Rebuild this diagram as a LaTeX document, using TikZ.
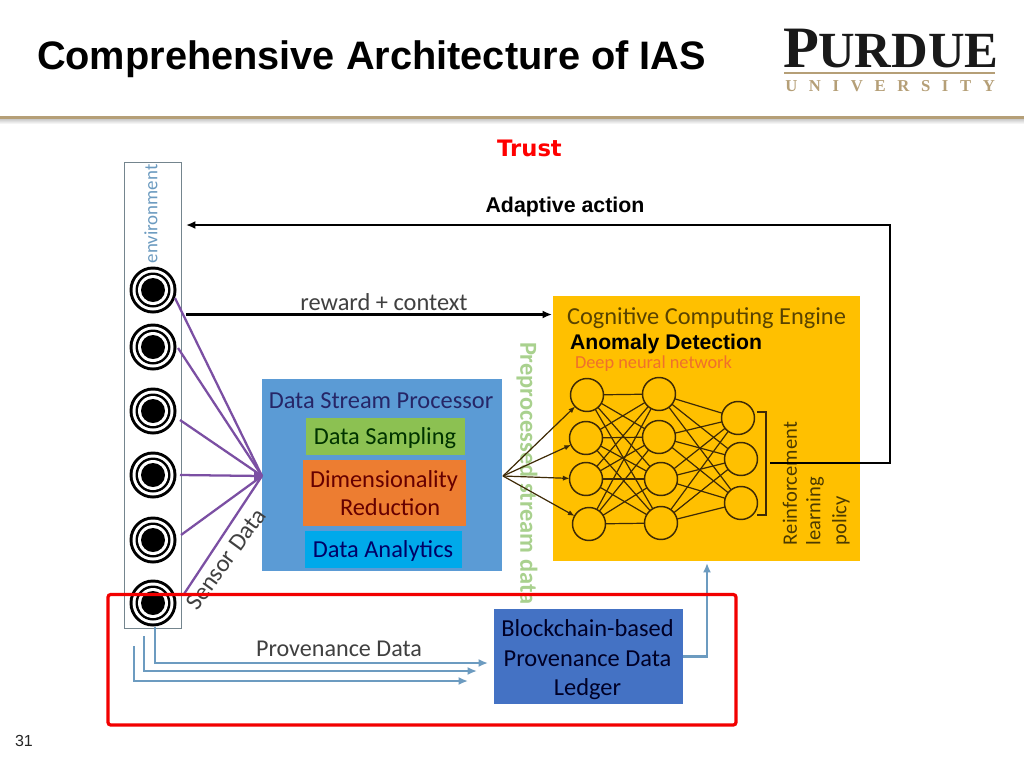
\documentclass[tikz,border=0pt]{standalone}
\usepackage{fontspec}
\setmainfont{Liberation Sans}
\newfontfamily\calfam{Carlito}
\newfontfamily\logofam{Liberation Serif}
\newfontfamily\dvfam{DejaVu Sans}
\newfontfamily\logospaced[LetterSpace=70]{Liberation Serif}
\usetikzlibrary{arrows.meta,decorations.pathreplacing,calc,shadings}
\definecolor{tanc}{HTML}{B59F77}
\definecolor{purp}{HTML}{7B4FA3}
\definecolor{provblue}{HTML}{6C9BC0}
\definecolor{dspblue}{HTML}{5B9BD5}
\definecolor{yel}{HTML}{FFC000}
\definecolor{ledger}{HTML}{4472C4}
\definecolor{dgreen}{HTML}{8CC152}
\definecolor{dorange}{HTML}{ED7D31}
\definecolor{dcyan}{HTML}{00A9EA}
\definecolor{nnline}{HTML}{3E2A06}
\definecolor{prelbl}{HTML}{A9D18E}
\tikzset{
  x=0.75pt,y=-0.75pt,
  box/.style={draw=none,inner sep=0pt,outer sep=0pt},
  lbl/.style={inner sep=0pt,outer sep=0pt,font=\calfam\fontsize{#1}{#1}\selectfont,text=black!75},
  lbl/.default=18.3,
  boxlbl/.style={inner sep=0pt,outer sep=0pt,align=center,font=\calfam\fontsize{18.3}{21}\selectfont},
  boldlbl/.style={inner sep=0pt,outer sep=0pt,font=\bfseries\fontsize{#1}{#1}\selectfont},
  neuron/.style={circle,draw=nnline,line width=1.1pt,minimum size=33*0.75pt,inner sep=0pt,outer sep=0pt},
  syn/.style={draw=nnline,line width=0.9pt},
  inarrow/.style={draw=nnline,line width=0.9pt,-{Latex[length=5pt,width=4pt]}},
  sensorline/.style={draw=purp,line width=1.7pt},
  prov/.style={draw=provblue,line width=1.7pt,-{Latex[length=7pt,width=6pt]}},
  fb/.style={draw=black,line width=2pt,-{Latex[length=7pt,width=6pt]}},
  rew/.style={draw=black,line width=1.7pt,-{Latex[length=7pt,width=6pt]}},
}
\newcommand{\sensor}[3]{%
  \node[circle,fill=black,minimum size=47*0.75pt,inner sep=0pt,outer sep=0pt] (#1) at (#2,#3) {};
  \node[circle,fill=white,minimum size=41*0.75pt,inner sep=0pt] (#1a) at (#2,#3) {};
  \node[circle,fill=black,minimum size=35*0.75pt,inner sep=0pt] (#1b) at (#2,#3) {};
  \node[circle,fill=white,minimum size=30*0.75pt,inner sep=0pt] (#1c) at (#2,#3) {};
  \node[circle,fill=black,minimum size=24*0.75pt,inner sep=0pt] (#1d) at (#2,#3) {};
}
\begin{document}
\begin{tikzpicture}
\useasboundingbox (0,0) rectangle (1024,768);
\fill[white] (0,0) rectangle (1024,768);

% header
\node[boldlbl=29.8,anchor=west] (title) at (37,59.5) {Comprehensive Architecture of IAS};
\shade[top color=black!25,bottom color=white] (0,118) rectangle (1024,124);
\fill[tanc] (0,115.5) rectangle (1024,119);
\node[inner sep=0pt,anchor=base west,font=\logofam\fontsize{44}{44}\selectfont,text=black!90] (logoP) at (783,67) {\textbf{P}};
\node[inner sep=0pt,anchor=base west,font=\logofam\fontsize{38}{38}\selectfont,text=black!90] (logoR) at (818,67) {\textbf{URDUE}};
\fill[tanc] (784,71.5) rectangle (995,73.5);
\node[inner sep=0pt,anchor=base west,font=\logospaced\fontsize{12.5}{12.5}\selectfont\bfseries,text=tanc] (logoU) at (785,91.5) {UNIVERSITY};

% labels on top
\node[inner sep=0pt,font=\dvfam\bfseries\fontsize{17}{17}\selectfont,text=red] (trust) at (529.5,148.5) {Trust};
\node[boldlbl=16] (adaptive) at (565,207) {Adaptive action};

% environment
\node[box,draw=black!50!cyan!40!gray,line width=0.6pt,minimum width=57*0.75pt,minimum height=466*0.75pt,anchor=north west,fill=white] (env) at (124,162) {};
\node[rotate=90,lbl=14.2,text=provblue,anchor=east] (envl) at (151,164.5) {environment};
\sensor{s1}{153}{290}
\sensor{s2}{153}{347}
\sensor{s3}{153}{411}
\sensor{s4}{153}{475}
\sensor{s5}{153}{540}
\sensor{s6}{153}{603}

% boxes
\node[box,fill=dspblue,minimum width=240*0.75pt,minimum height=192*0.75pt,anchor=north west] (dsp) at (262,379) {};
\node[boxlbl,text=blue!30!black!85,anchor=center] (dspl) at (381,401) {Data Stream Processor};
\node[box,fill=dgreen,minimum width=159*0.75pt,minimum height=37*0.75pt,anchor=north west] (samp) at (306,418) {};
\node[boxlbl,text=green!20!black] (sampl) at (385,438) {Data Sampling};
\node[box,fill=dorange,minimum width=163*0.75pt,minimum height=66*0.75pt,anchor=north west] (dim) at (303,460) {};
\node[boxlbl,text=red!40!black] (diml) at (384,493.5) {Dimensionality\\ \hspace*{0.5em}Reduction};
\node[box,fill=dcyan,minimum width=157*0.75pt,minimum height=37*0.75pt,anchor=north west] (ana) at (305,531) {};
\node[boxlbl,text=blue!40!black] (anal) at (383,551) {Data Analytics};

\node[box,fill=yel,minimum width=307*0.75pt,minimum height=265*0.75pt,anchor=north west] (cce) at (553,296) {};
\node[lbl=18.3,text=yel!35!black,anchor=west] (ccel) at (567,318) {Cognitive Computing Engine};
\node[boldlbl=15.9,anchor=west] (anom) at (570,344) {Anomaly Detection};
\node[lbl=13.75,text=dorange!90!red,anchor=west] (dnn) at (575,364) {Deep neural network};

\node[box,fill=ledger,minimum width=189*0.75pt,minimum height=95*0.75pt,anchor=north west] (led) at (494,609) {};
\node[boxlbl,text=black!85!blue,font=\calfam\fontsize{18.3}{22.2}\selectfont] (ledl) at (587.5,660) {Blockchain-based\\Provenance Data\\Ledger};

% preprocessed label
\node[rotate=-90,inner sep=0pt,outer sep=0pt,text=prelbl,font=\calfam\bfseries\fontsize{18.3}{18.3}\selectfont,anchor=west] (pre) at (527,342) {Preprocessed stream data};

% sensor lines
\coordinate (hub) at (262,476);
\coordinate (p1) at (175,298);
\coordinate (p2) at (178,348);
\coordinate (p3) at (180,420);
\coordinate (p4) at (180,475);
\coordinate (p5) at (181,535);
\coordinate (p6) at (184,594);
\foreach \p in {p1,p2,p3,p4,p5,p6} \draw[sensorline] (\p) -- (hub);
\fill[purp] (hub) ++(-8,-5) -- (hub) -- ++(-8,5) -- cycle;

\node[rotate=54,lbl=18.3] (sd) at (226,559) {Sensor Data};
\node[lbl=18.3] (rc) at (384,302) {reward + context};
\node[lbl=18.1] (pd) at (339,649) {Provenance Data};

% neurons
\foreach \n/\x/\y in {a1/587/395,a2/586/438,a3/586/479,a4/589/524,b1/659/394,b2/659/437,b3/661/479,b4/661/523,c1/738/418,c2/741/459,c3/741/503}
  \node[neuron] (\n) at (\x,\y) {};
\foreach \i in {a1,a2,a3,a4} \foreach \j in {b1,b2,b3,b4} \draw[syn] (\i) -- (\j);
\foreach \i in {b1,b2,b3,b4} \foreach \j in {c1,c2,c3} \draw[syn] (\i) -- (\j);
\coordinate (src) at (503,476);
\foreach \i in {a1,a2,a3,a4} \draw[inarrow] (src) -- (\i);

% bracket
\coordinate (bt) at (757,412);
\coordinate (bb) at (757,515);
\draw[draw=nnline,line width=0.9pt] (bt) -- (766,412) -- (766,515) -- (bb);

\foreach \nm/\x/\t in {r1/790/Reinforcement,r2/815/learning,r3/841/policy}
  \node[rotate=90,lbl=15.4,text=yel!30!black,anchor=west] (\nm) at (\x,545) {\t};

% feedback
\coordinate (fbs) at (770,463);
\coordinate (fbe) at (186,225);
\draw[fb] (fbs) -- (890,463) -- (890,225) -- (fbe);
\coordinate (rs) at (186,314.5);
\coordinate (re) at (552,314.5);
\draw[rew] (rs) -- (re);

% provenance
\coordinate (q1) at (155,627);
\coordinate (q2) at (144,636);
\coordinate (q3) at (134,646);
\coordinate (h1) at (488,663);
\coordinate (h2) at (477,671);
\coordinate (h3) at (468,681);
\coordinate (up) at (707,563);
\draw[prov] (q1) |- (h1);
\draw[prov] (q2) |- (h2);
\draw[prov] (q3) |- (h3);
\draw[prov] (led.east) -| (up);

% red frame
\draw[red!95!black,line width=2.4pt,rounded corners=2pt] (108,594.5) rectangle (736,725);

\node[inner sep=0pt,font=\fontsize{12}{12}\selectfont,text=black!85] (pg) at (24,741) {31};
\end{tikzpicture}
\end{document}
